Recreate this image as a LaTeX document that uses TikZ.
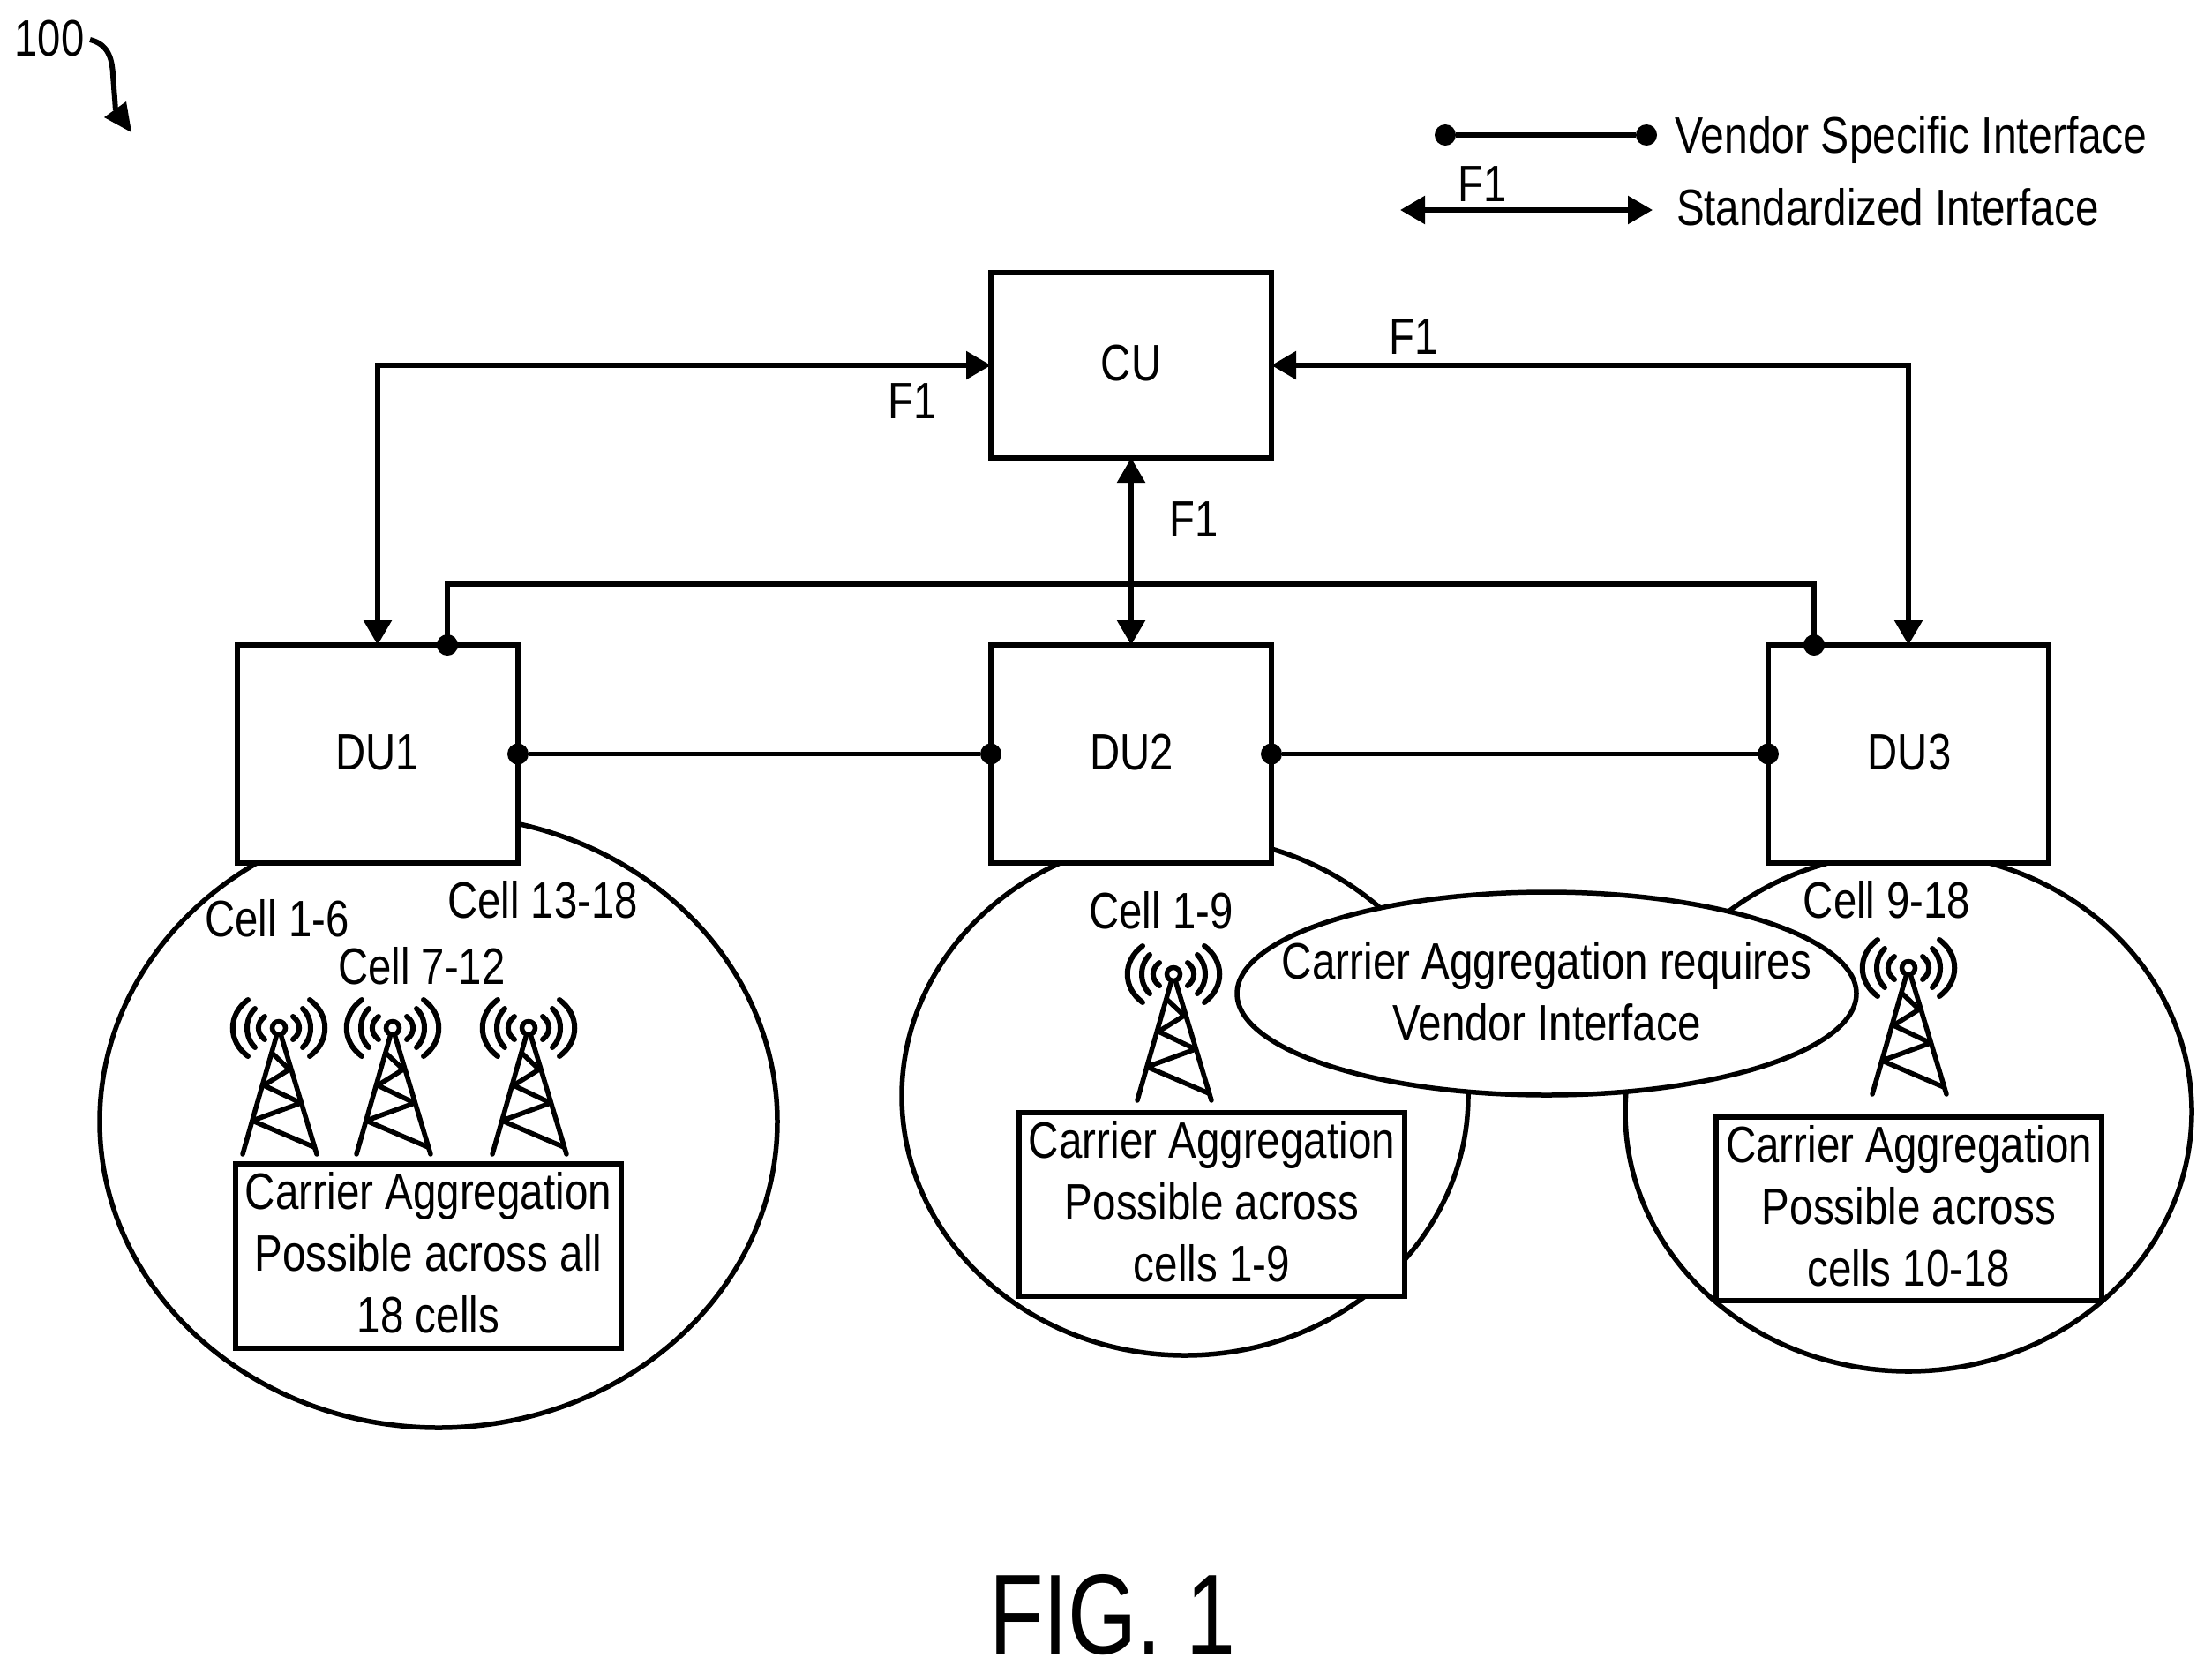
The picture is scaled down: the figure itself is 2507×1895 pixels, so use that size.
\documentclass[tikz,border=0pt]{standalone}
\usepackage{fontspec}
\setmainfont[FakeStretch=0.815]{Liberation Sans}
\newfontfamily\legfont[FakeStretch=0.83]{Liberation Sans}
\newfontfamily\boxfont[FakeStretch=0.82]{Liberation Sans}
\newfontfamily\figfont[FakeStretch=0.78]{Liberation Sans}
\usetikzlibrary{arrows.meta,shapes.geometric}
\tikzset{
  unitbox/.style={draw=black,fill=white,line width=5.5pt,inner sep=0pt,outer sep=0pt},
  lbl/.style={inner sep=0pt,outer sep=0pt,font=\fontsize{58}{70}\selectfont,align=center},
  boxed/.style={unitbox,lbl,font=\fontsize{58}{70}\boxfont,text depth=8pt},
  one/.style={lbl,text height=42pt,text depth=0pt},
  oval/.style={draw=black,ellipse,line width=5.5pt,inner sep=0pt,outer sep=0pt},
  link/.style={line width=5.5pt},
  bi/.style={line width=5.5pt,{Triangle[length=28pt,width=31pt]}-{Triangle[length=28pt,width=31pt]}},
  dotn/.style={circle,fill=black,inner sep=0pt,outer sep=0pt,minimum size=24pt},
  tower/.pic={
    \draw[line width=5.5pt,line cap=round] (-41,143) -- (-3,10);
    \draw[line width=5.5pt,line cap=round] (43,143) -- (3,10);
    \draw[line width=5.5pt] (0,0) circle (7.5);
    \draw[line width=5.5pt,line join=round] (-7,29) -- (12,47) -- (-17,65) -- (25,85) -- (-30,105) -- (40,135);
    \draw[line width=6pt,line cap=round]
      (-35,-32) .. controls (-58,-15) and (-58,15) .. (-35,32)
      (35,-32) .. controls (58,-15) and (58,15) .. (35,32)
      (-27,-22) .. controls (-39,-10) and (-39,10) .. (-27,22)
      (27,-22) .. controls (39,-10) and (39,10) .. (27,22)
      (-16,-13) .. controls (-25.5,-6) and (-25.5,6) .. (-16,13)
      (16,-13) .. controls (25.5,-6) and (25.5,6) .. (16,13);
  }
}
\begin{document}
\begin{tikzpicture}[x=1pt,y=-1pt]
\useasboundingbox (0,0) rectangle (2507,1895);
% coverage ellipses
\node[oval,minimum width=768pt,minimum height=694pt] (cov1) at (497,1271) {};
\node[oval,minimum width=642pt,minimum height=588pt] (cov2) at (1343,1242) {};
\node[oval,minimum width=642pt,minimum height=588pt] (cov3) at (2163,1260) {};
% units
\node[unitbox,minimum width=318pt,minimum height=210pt] (CU) at (1282,414) {};
\node[unitbox,minimum width=318pt,minimum height=247pt] (DU1) at (428,854.5) {};
\node[unitbox,minimum width=318pt,minimum height=247pt] (DU2) at (1282,854.5) {};
\node[unitbox,minimum width=318pt,minimum height=247pt] (DU3) at (2163,854.5) {};
\node[one] (tCU) at (1282,410) {CU};
\node[one] (tDU1) at (428,851) {DU1};
\node[one] (tDU2) at (1283,851) {DU2};
\node[one] (tDU3) at (2164,851) {DU3};
% standard interfaces
\draw[bi] (DU1.north) |- (CU.west);
\draw[bi] (DU3.north) |- (CU.east);
\draw[bi] (CU.south) -- (DU2.north);
\node[one] (f1a) at (1034,453) {F1};
\node[one] (f1b) at (1602,380) {F1};
\node[one] (f1c) at (1353,587) {F1};
% vendor interfaces
\node[dotn] (v1) at (507,731) {};
\node[dotn] (v3) at (2056,731) {};
\coordinate (vm) at (1282,662);
\draw[link] (v1.center) |- (vm) -| (v3.center);
\node[dotn] (e1) at (DU1.east) {};
\node[dotn] (w2) at (DU2.west) {};
\node[dotn] (e2) at (DU2.east) {};
\node[dotn] (w3) at (DU3.west) {};
\draw[link] (e1) -- (w2);
\draw[link] (e2) -- (w3);
% cell labels
\node[one] (c16) at (314,1040) {Cell 1-6};
\node[one] (c1318) at (615,1019) {Cell 13-18};
\node[one] (c712) at (478,1094) {Cell 7-12};
\node[one] (c19) at (1316,1031) {Cell 1-9};
\node[one] (c918) at (2138.5,1019) {Cell 9-18};
% towers
\pic at (316,1165) {tower};
\pic at (445,1165) {tower};
\pic at (599,1165) {tower};
\pic at (1330,1104) {tower};
\pic at (2163,1097) {tower};
% boxes
\node[boxed,minimum width=437pt,minimum height=209pt] (b1) at (485.5,1423.5) {Carrier Aggregation\\Possible across all\\18 cells};
\node[boxed,minimum width=437pt,minimum height=208pt] (b2) at (1373.5,1365) {Carrier Aggregation\\Possible across\\cells 1-9};
\node[boxed,minimum width=437pt,minimum height=208pt] (b3) at (2163.5,1370) {Carrier Aggregation\\Possible across\\cells 10-18};
\node[oval,fill=white,minimum width=702pt,minimum height=230pt] (ca) at (1753,1126) {};
\node[lbl,font=\fontsize{58}{70}\boxfont] (tca) at (1753,1124) {Carrier Aggregation requires\\Vendor Interface};
% legend
\node[dotn] (l1) at (1638,153) {};
\node[dotn] (l2) at (1866,153) {};
\draw[link] (l1) -- (l2);
\coordinate (l3) at (1587,238);
\coordinate (l4) at (1873,238);
\draw[bi] (l3) -- (l4);
\node[one] (lf) at (1680,207) {F1};
\node[one,anchor=west,font=\fontsize{58}{70}\legfont] (lt1) at (1898,152) {Vendor Specific Interface};
\node[one,anchor=west,font=\fontsize{58}{70}\boxfont] (lt2) at (1900,234) {Standardized Interface};
% reference
\node[one] (ref) at (56,42) {100};
\coordinate (ra) at (102,45);
\coordinate (rb) at (131,125);
\draw[line width=6pt] (ra) .. controls (122,50) and (127,65) .. (128,85) -- (rb);
\fill (149,150) -- (118,133) -- (143,115) -- cycle;
\node[inner sep=0pt,text height=89pt,text depth=0pt,font=\fontsize{129}{140}\figfont] (fig) at (1261,1829.5) {FIG. 1};
\end{tikzpicture}
\end{document}
